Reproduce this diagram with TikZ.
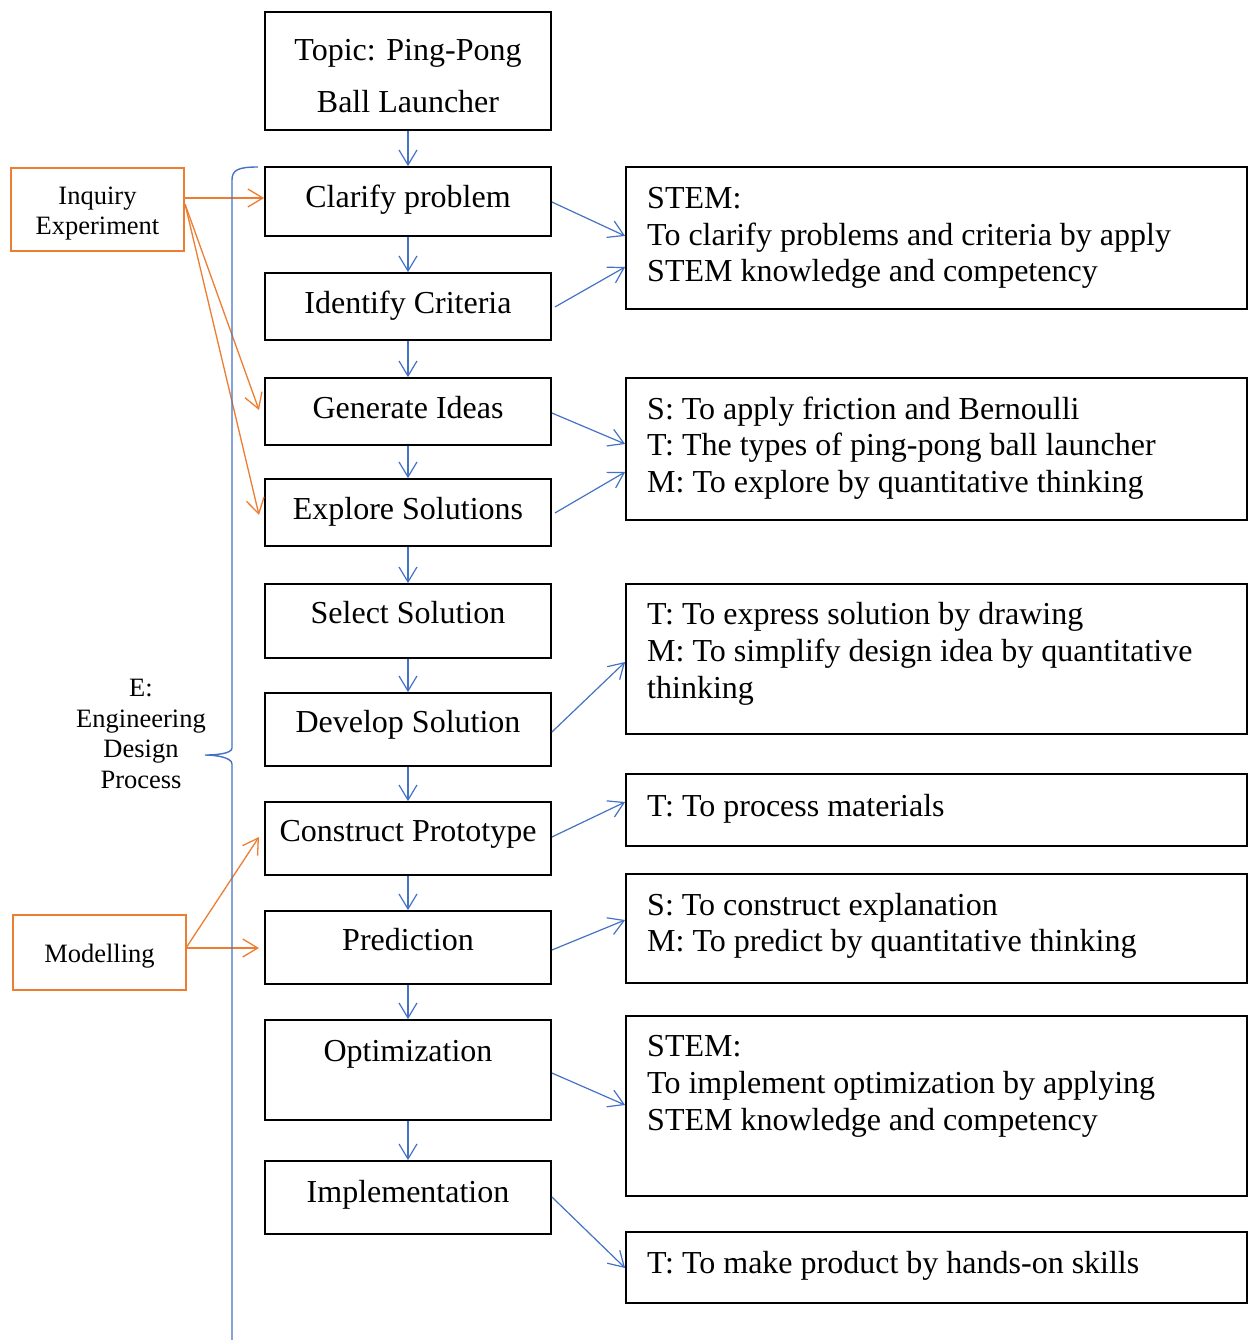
\documentclass[tikz,border=0pt]{standalone}
\usepackage{fontspec}
\setmainfont{Liberation Serif}
\usetikzlibrary{arrows.meta}
\definecolor{eblue}{HTML}{4472C4}
\definecolor{eorange}{HTML}{ED7D31}
\tikzset{
  cbox/.style={draw=black, line width=1.8pt, minimum width=286pt, inner sep=0pt},
  rbox/.style={draw=black, line width=1.8pt, minimum width=621pt, inner sep=0pt},
  obox/.style={draw=eorange, line width=2.6pt, minimum width=173pt, inner sep=0pt},
  ctext/.style={font=\fontsize{32}{38}\selectfont, anchor=mid, inner sep=0pt},
  rtext/.style={font=\fontsize{32}{38}\selectfont, anchor=mid west, inner sep=0pt},
  otext/.style={font=\fontsize{26.5}{30}\selectfont, align=center, inner sep=0pt},
  barr/.style={draw=eblue, line width=1.2pt, -{Straight Barb[length=15pt,width=18pt,line width=1.2pt]}},
  oarr/.style={draw=eorange, line width=1.3pt, -{Straight Barb[length=15pt,width=18pt,line width=1.3pt]}},
}
\begin{document}
\begin{tikzpicture}[x=1pt,y=-1pt]
\useasboundingbox (0,0) rectangle (1258,1340);
% centre column boxes
\node[cbox, minimum height=118pt] (topic) at (408,71) {};
\node[ctext] (topict1) at (408,58) {Topic: Ping-Pong};
\node[ctext] (topict2) at (408,110) {Ball Launcher};
\node[cbox, minimum height=69pt] (clar) at (408,201.5) {};
\node[ctext] (clart) at (408,205) {Clarify problem};
\node[cbox, minimum height=67pt] (iden) at (408,306.5) {};
\node[ctext] (ident) at (408,311) {Identify Criteria};
\node[cbox, minimum height=67pt] (gen) at (408,411.5) {};
\node[ctext] (gent) at (408,416) {Generate Ideas};
\node[cbox, minimum height=67pt] (expl) at (408,512.5) {};
\node[ctext] (explt) at (408,517) {Explore Solutions};
\node[cbox, minimum height=74pt] (sel) at (408,621) {};
\node[ctext] (selt) at (408,621) {Select Solution};
\node[cbox, minimum height=73pt] (dev) at (408,729.5) {};
\node[ctext] (devt) at (408,730) {Develop Solution};
\node[cbox, minimum height=73pt] (cons) at (408,838.5) {};
\node[ctext] (const) at (408,839) {Construct Prototype};
\node[cbox, minimum height=73pt] (pred) at (408,947.5) {};
\node[ctext] (predt) at (408,948) {Prediction};
\node[cbox, minimum height=100pt] (opt) at (408,1070) {};
\node[ctext] (optt) at (408,1059) {Optimization};
\node[cbox, minimum height=73pt] (impl) at (408,1197.5) {};
\node[ctext] (implt) at (408,1200) {Implementation};
% vertical arrows
\foreach \a/\b in {topic/clar, clar/iden, iden/gen, gen/expl, expl/sel, sel/dev, dev/cons, cons/pred, pred/opt, opt/impl}
  \draw[barr] (\a.south) -- (\b.north);
% right boxes
\node[rbox, minimum height=142pt] (r1) at (936.5,238) {};
\node[rtext] (r1a) at (647,206) {STEM:};
\node[rtext] (r1b) at (647,243) {To clarify problems and criteria by apply};
\node[rtext] (r1c) at (647,279) {STEM knowledge and competency};
\node[rbox, minimum height=142pt] (r2) at (936.5,449) {};
\node[rtext] (r2a) at (647,417) {S: To apply friction and Bernoulli};
\node[rtext] (r2b) at (647,453) {T: The types of ping-pong ball launcher};
\node[rtext] (r2c) at (647,490) {M: To explore by quantitative thinking};
\node[rbox, minimum height=150pt] (r3) at (936.5,659) {};
\node[rtext] (r3a) at (647,622) {T: To express solution by drawing};
\node[rtext] (r3b) at (647,659) {M: To simplify design idea by quantitative};
\node[rtext] (r3c) at (647,696) {thinking};
\node[rbox, minimum height=72pt] (r4) at (936.5,810) {};
\node[rtext] (r4a) at (647,814) {T: To process materials};
\node[rbox, minimum height=109pt] (r5) at (936.5,928.5) {};
\node[rtext] (r5a) at (647,913) {S: To construct explanation};
\node[rtext] (r5b) at (647,949) {M: To predict by quantitative thinking};
\node[rbox, minimum height=180pt] (r6) at (936.5,1106) {};
\node[rtext] (r6a) at (647,1054) {STEM:};
\node[rtext] (r6b) at (647,1091) {To implement optimization by applying};
\node[rtext] (r6c) at (647,1128) {STEM knowledge and competency};
\node[rbox, minimum height=71pt] (r7) at (936.5,1267.5) {};
\node[rtext] (r7a) at (647,1271) {T: To make product by hands-on skills};
% blue diagonal arrows
\draw[barr] (clar.east |- 0,202) -- (r1.west |- 0,236);
\draw[barr] ([xshift=3pt]iden.east |- 0,307) -- (r1.west |- 0,267);
\draw[barr] (gen.east |- 0,413) -- (r2.west |- 0,444);
\draw[barr] ([xshift=3pt]expl.east |- 0,513) -- (r2.west |- 0,472);
\draw[barr] (dev.east |- 0,732) -- (r3.west |- 0,662);
\draw[barr] (cons.east |- 0,837) -- (r4.west |- 0,802);
\draw[barr] (pred.east |- 0,950) -- (r5.west |- 0,920);
\draw[barr] (opt.east |- 0,1073) -- (r6.west |- 0,1105);
\draw[barr] (impl.east |- 0,1197) -- (r7.west |- 0,1268);
% orange boxes
\node[obox, minimum height=83pt] (inq) at (97.5,209.5) {};
\node[otext] (inqt) at (97.5,214) {Inquiry\\Experiment};
\node[obox, minimum height=75pt] (mod) at (99.5,952.5) {};
\node[otext] (modt) at (99.5,956) {Modelling};
\coordinate (inqo) at (184,198);
\coordinate (inqd) at (185,204);
\coordinate (modo) at (186,948);
\draw[oarr] (inqo) -- (clar.west |- 0,198);
\draw[oarr] (inqd) -- (259,410);
\draw[oarr] (inqd) -- (259,515);
\draw[oarr] (modo) -- (259,837);
\draw[oarr] (modo) -- (259,948);
% brace
\draw[eblue, line width=1.4pt] (258,167) .. controls (238,167) and (232,170) .. (232,180)
  -- (232,748) .. controls (232,754) and (214,755) .. (205,755)
  .. controls (214,755) and (232,757) .. (232,764) -- (232,1340);
\node[otext, font=\fontsize{26.5}{30.5}\selectfont] (elab) at (141,734) {E:\\Engineering\\Design\\Process};
\end{tikzpicture}
\end{document}
